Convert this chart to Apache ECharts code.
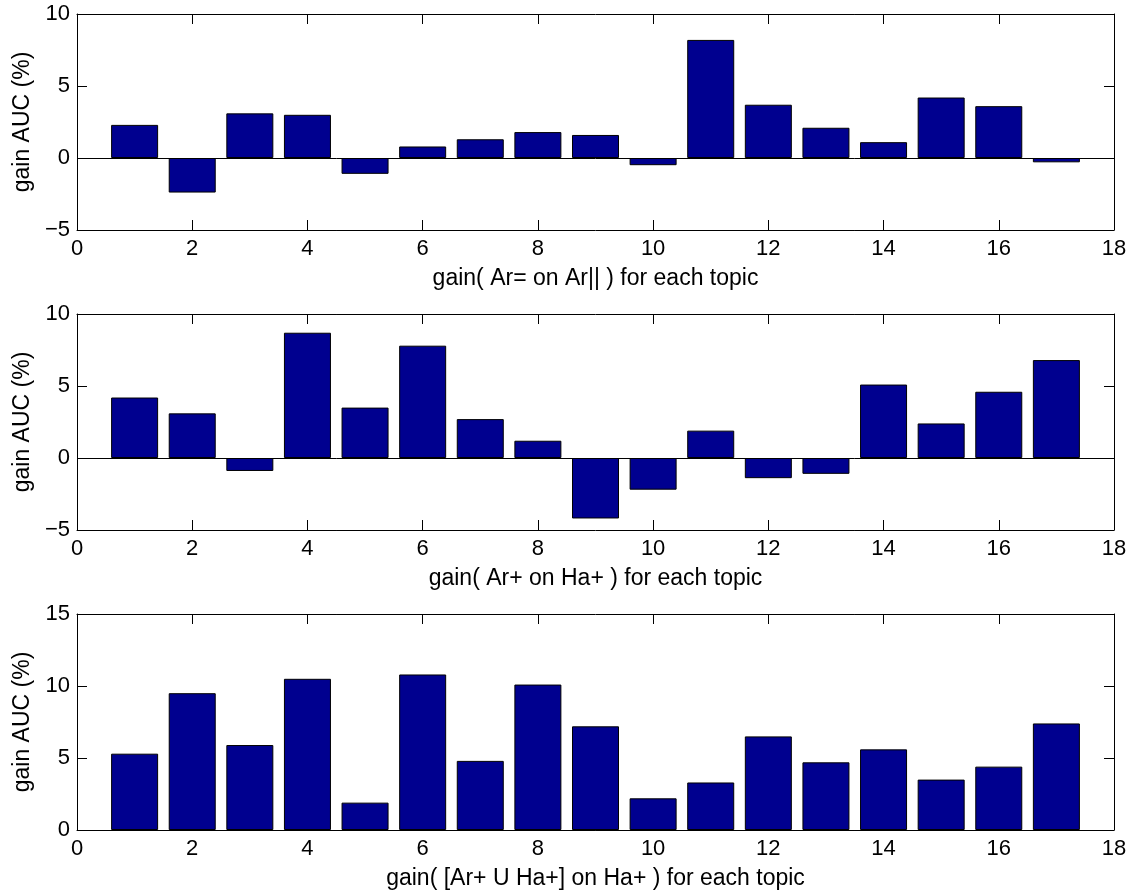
<!DOCTYPE html>
<html>
<head>
<meta charset="utf-8">
<script src="https://cdn.jsdelivr.net/npm/echarts@6/dist/echarts.min.js"></script>
<style>
  html, body { margin: 0; padding: 0; background: #fff; }
  #chart { width: 1132px; height: 892px; }
</style>
</head>
<body>
<div id="chart"></div>
<script>
// topics 1..17
const topics = [1, 2, 3, 4, 5, 6, 7, 8, 9, 10, 11, 12, 13, 14, 15, 16, 17];

const gainArEq = [2.3, -2.4, 3.1, 3.0, -1.1, 0.8, 1.3, 1.8, 1.6, -0.5, 8.2, 3.7, 2.1, 1.1, 4.2, 3.6, -0.3];
const gainArPlus = [4.2, 3.1, -0.9, 8.7, 3.5, 7.8, 2.7, 1.2, -4.2, -2.2, 1.9, -1.4, -1.1, 5.1, 2.4, 4.6, 6.8];
const gainUnion = [5.3, 9.5, 5.9, 10.5, 1.9, 10.8, 4.8, 10.1, 7.2, 2.2, 3.3, 6.5, 4.7, 5.6, 3.5, 4.4, 7.4];

const xLabels = ["gain( Ar= on Ar|| ) for each topic", "gain( Ar+ on Ha+ ) for each topic", "gain( [Ar+ U Ha+] on Ha+ ) for each topic"];
const yRanges = [[-5, 10], [-5, 10], [0, 15]];
const yLabel = "gain AUC (%)";

const chart = echarts.init(document.getElementById("chart"));

const font = "Liberation Sans, Arial, sans-serif";
const tops = [14, 314, 614];
const allData = [gainArEq, gainArPlus, gainUnion];

// matlab style minus sign
const tickFmt = (v) => String(v).replace("-", "\u2212");

const grid = [], xAxis = [], yAxis = [], series = [];

allData.forEach((vals, i) => {
    grid.push({ left: 77, right: 18, top: tops[i], height: 216 });
    const axisLine = { show: true, onZero: false, lineStyle: { color: "#000", width: 1 } };
    const tick = { show: true, inside: true, length: 10, lineStyle: { color: "#000" } };
    // bottom x axis with labels
    xAxis.push({
        type: "value", gridIndex: i, min: 0, max: 18, interval: 2, position: "bottom",
        axisLine, axisTick: tick, splitLine: { show: false },
        axisLabel: { color: "#000", fontSize: 22, fontFamily: font, margin: 8 },
        name: xLabels[i], nameLocation: "middle", nameGap: 37,
        nameTextStyle: { color: "#000", fontSize: 23, fontFamily: font },
    });
    // top x axis: frame + ticks only
    xAxis.push({
        type: "value", gridIndex: i, min: 0, max: 18, interval: 2, position: "top",
        axisLine, axisTick: tick, splitLine: { show: false }, axisLabel: { show: false },
    });
    yAxis.push({
        type: "value", gridIndex: i, min: yRanges[i][0], max: yRanges[i][1], interval: 5, position: "left",
        axisLine, axisTick: tick, splitLine: { show: false },
        axisLabel: { color: "#000", fontSize: 22, fontFamily: font, margin: 7, formatter: tickFmt },
        name: yLabel, nameLocation: "middle", nameGap: 42,
        nameTextStyle: { color: "#000", fontSize: 23, fontFamily: font },
    });
    yAxis.push({
        type: "value", gridIndex: i, min: yRanges[i][0], max: yRanges[i][1], interval: 5, position: "right",
        axisLine, axisTick: tick, splitLine: { show: false }, axisLabel: { show: false },
    });
    series.push({
        type: "bar",
        xAxisIndex: i * 2,
        yAxisIndex: i * 2,
        data: topics.map((t, k) => [t, vals[k]]),
        barWidth: 47,
        itemStyle: { color: "#00008f", borderColor: "#000", borderWidth: 1 },
        silent: true,
        markLine: {
            silent: true,
            symbol: "none",
            label: { show: false },
            lineStyle: { color: "#000", width: 1, type: "solid" },
            data: [{ yAxis: 0 }],
        },
    });
});

chart.setOption({
    backgroundColor: "#fff",
    animation: false,
    grid, xAxis, yAxis, series,
});
</script>
</body>
</html>
